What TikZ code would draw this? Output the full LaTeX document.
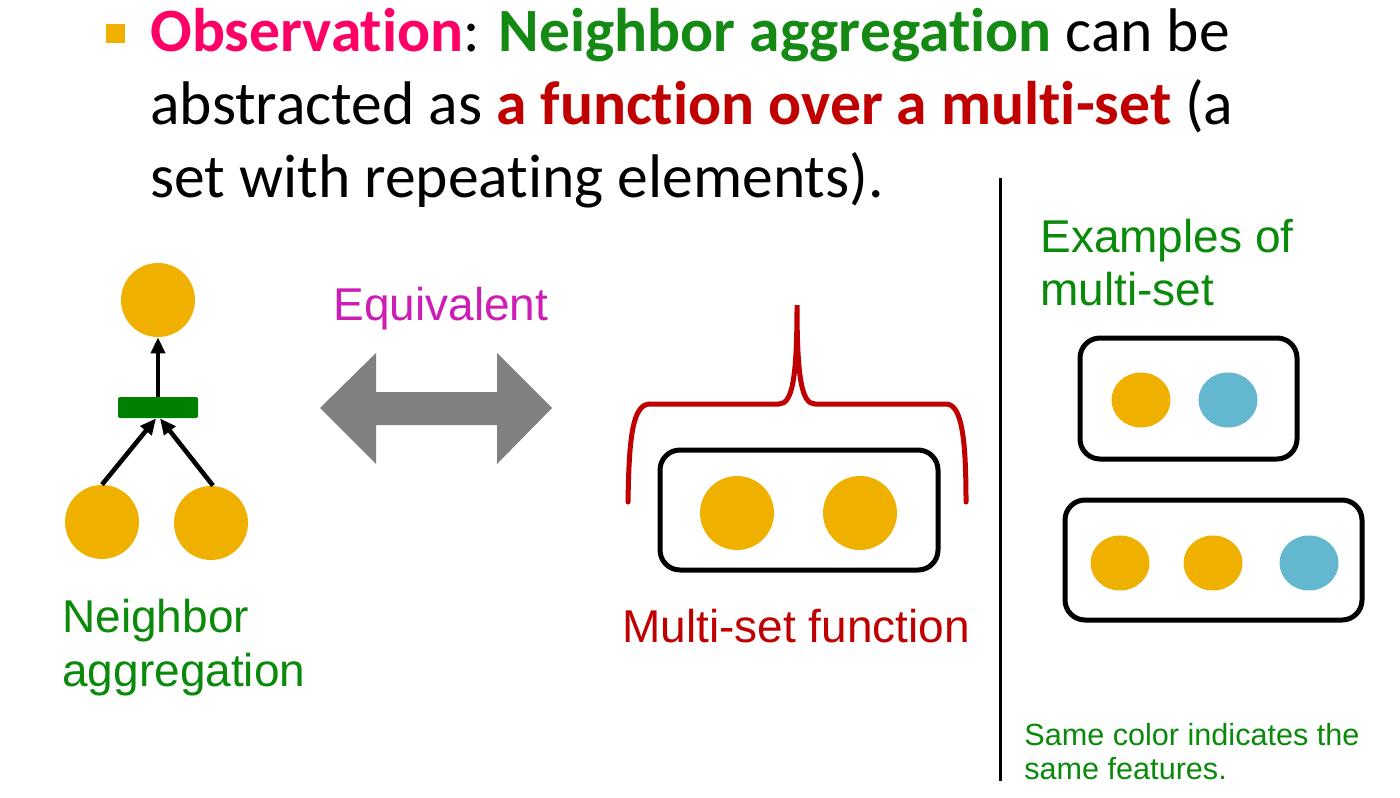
\documentclass[tikz,border=0pt]{standalone}
\usepackage{fontspec}
\setmainfont{Carlito}[Ligatures={NoCommon}]
\newfontfamily\arialf{Liberation Sans}
\usetikzlibrary{arrows.meta,shapes.geometric}
\definecolor{gold}{RGB}{240,176,0}
\definecolor{skyb}{RGB}{99,184,207}
\definecolor{obsmag}{RGB}{255,0,102}
\definecolor{titgreen}{RGB}{20,138,20}
\definecolor{darkred}{RGB}{192,0,0}
\definecolor{eqmag}{RGB}{204,30,180}
\definecolor{lblgreen}{RGB}{10,138,10}
\definecolor{aggreen}{RGB}{0,128,0}
\definecolor{arrgray}{RGB}{128,128,128}
\tikzset{
  titletext/.style={anchor=base west, inner sep=0pt, font=\fontsize{30.8}{36}\selectfont},
  lbl/.style={anchor=base west, inner sep=0pt, font=\arialf\fontsize{23}{28}\selectfont},
  small lbl/.style={anchor=base west, inner sep=0pt, font=\arialf\fontsize{15.3}{18}\selectfont},
  dot/.style={circle, fill=gold, minimum size=37pt, inner sep=0pt},
  edot/.style={ellipse, fill=#1, minimum width=29.5pt, minimum height=27.5pt, inner sep=0pt},
  setbox/.style={draw=black, line width=2.5pt, rounded corners=10pt, inner sep=0pt},
  aggarrow/.style={line width=2.3pt, -{Triangle[length=8pt,width=7pt]}},
}
\begin{document}
\begin{tikzpicture}[x=0.5pt,y=-0.5pt]
\useasboundingbox (0,0) rectangle (1400,797);
\fill[white] (0,0) rectangle (1400,797);

% title
\node[fill=gold, minimum size=9.5pt, inner sep=0pt] (bullet) at (115,34) {};
\node[titletext] (t1) at (150,52) {\textbf{\color{obsmag}Observation}: \textbf{\color{titgreen}Neighbor aggregation} can be};
\node[titletext] (t2) at (150,125) {abstracted as \textbf{\color{darkred}a function over a multi-set} (a};
\node[titletext] (t3) at (150,197) {set with repeating elements).};

% left graph
\node[dot] (top) at (158,300) {};
\node[fill=aggreen, minimum width=40pt, minimum height=10.5pt, inner sep=0pt, rounded corners=1pt] (agg) at (158,407.5) {};
\node[dot] (nl) at (102,522) {};
\node[dot] (nr) at (211,523) {};
\draw[aggarrow] (agg.north) -- (top.south);
\draw[aggarrow] (nl.north) -- ([xshift=-1pt]agg.south);
\draw[aggarrow] ([xshift=1pt]nr.north) -- ([xshift=1pt]agg.south);
\node[lbl, text=lblgreen] (nlab1) at (62,632) {Neighbor};
\node[lbl, text=lblgreen] (nlab2) at (62,686) {aggregation};

% equivalent arrow
\node[lbl, text=eqmag] (eq) at (333,320) {Equivalent};
\fill[arrgray] (320,408) -- (376,353) -- (376,392) -- (497,392) -- (497,353) -- (552,408)
  -- (497,464) -- (497,425) -- (376,425) -- (376,464) -- cycle;

% multi-set function
\draw[darkred, line width=2.5pt, line cap=round]
  (628,502) .. controls (629,440) and (632,404) .. (650,404) -- (779,404)
  .. controls (792,404) and (797,380) .. (797,305)
  .. controls (797,380) and (802,404) .. (815,404) -- (946,404)
  .. controls (962,404) and (966,440) .. (966,502);
\node[setbox, minimum width=139pt, minimum height=60pt] (mbox) at (799,510) {};
\node[dot] (m1) at (737,513) {};
\node[dot] (m2) at (860,513) {};
\node[lbl, text=darkred] (mlab) at (622,642) {Multi-set function};

% divider
\draw[black, line width=1.5pt] (1000,178) -- (1000,781);

% examples
\node[lbl, text=lblgreen] (ex1) at (1040,252) {Examples of};
\node[lbl, text=lblgreen] (ex2) at (1040,305) {multi-set};
\node[setbox, minimum width=108.5pt, minimum height=60.5pt] (b1) at (1188.5,398.5) {};
\node[edot=gold] (b1a) at (1141,400) {};
\node[edot=skyb] (b1b) at (1228,400) {};
\node[setbox, minimum width=148.5pt, minimum height=60pt] (b2) at (1213.5,560) {};
\node[edot=gold] (b2a) at (1120,563) {};
\node[edot=gold] (b2b) at (1213,563) {};
\node[edot=skyb] (b2c) at (1309,563) {};
\node[small lbl, text=lblgreen] (s1) at (1024,745) {Same color indicates the};
\node[small lbl, text=lblgreen] (s2) at (1024,779) {same features.};
\end{tikzpicture}
\end{document}
